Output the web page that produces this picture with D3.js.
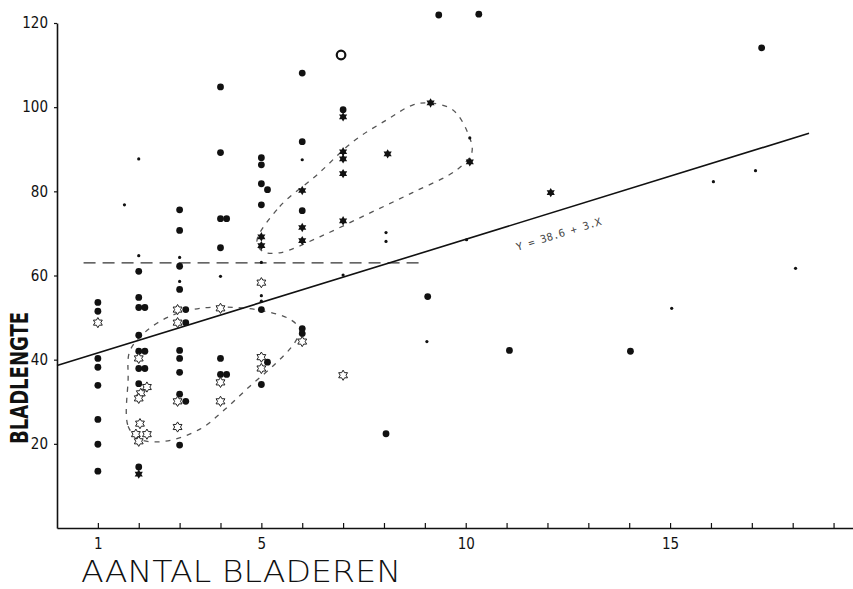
<!DOCTYPE html>
<html>
<head>
<meta charset="utf-8">
<script src="https://cdn.jsdelivr.net/npm/d3@7"></script>
<style>
  body{margin:0;background:#fff}
</style>
</head>
<body>
<div class="plot"></div>
<script>
// values: [aantal bladeren, bladlengte]
const bigDots = [
  [1,53.6],[1,51.5],[1,40.3],[1,38.2],[1,33.9],[1,25.8],[1,19.9],[1,13.5],
  [2,61],[2,54.8],[2,52.4],[2.15,52.4],[2,45.8],[2,42],[2.15,42],[2,37.9],[2.15,37.9],[2,34.3],[2,14.5],
  [3,75.6],[3,70.7],[3,62.2],[3,56.7],[3.15,51.9],[3.15,48.8],[3,42.2],[3,40.3],[3,37],[3,31.8],[3.15,30.1],[3,19.7],
  [4,104.8],[4,89.2],[4,73.5],[4.15,73.5],[4,66.6],[4,40.3],[4,36.5],[4.15,36.5],
  [5,88],[5,86.3],[5,81.8],[5.15,80.4],[5,76.8],[5,51.9],[5.15,39.4],[5,34.1],
  [6,108.1],[6,91.8],[6,75.4],[6,47.4],[6,46.2],
  [7,99.4],[8.05,22.4],[9.07,55],[9.34,121.9],[10.32,122.1],[11.07,42.2],[14.03,42],[17.24,114.1]
]
const smallDots = [
  [1.65,76.8],[2,87.7],[2,64.7],[3,64.3],[3,58.6],[4,59.8],[5,63.1],[5,55.2],[5,53.9],
  [6,87.5],[7,60.1],[8.05,70.2],[8.05,68.1],[9.05,44.3],[10.02,68.5],[10.1,92.7],
  [15.04,52.2],[16.06,82.3],[17.09,84.9],[18.07,61.7]
]
const openStars = [
  [1,48.8],[2,40.3],[2.2,33.5],[2.05,32],[2,30.8],[2.03,24.8],[1.93,22.3],[2.2,22.3],[2,20.6],
  [2.95,51.9],[2.95,48.8],[2.95,30.1],[2.95,24],[4,52.2],[4,34.6],[4,30.1],
  [5,58.3],[5,40.6],[5,37.9],[6,44.3],[7,36.3]
]
const filledStars = [
  [2,12.8],[5,69.2],[5,67.1],[6,80.2],[6,71.4],[6,68.3],
  [7,97.7],[7,89.4],[7,87.7],[7,84.2],[7,73],[8.09,88.9],[9.14,101],[10.1,87],[12.08,79.7]
]
const rings = [[6.95,112.4]]

// regression Y = a + b.X and the mean line
const regA = 38.6, regB = 3
const regRange = [0, 18.4]
const meanY = 63, meanRange = [0.65, 8.9]

// hand drawn envelopes round the star groups
const upperLoop = [
  [4.89,68.1],[5.45,76.4],[6.36,83.9],[7.24,91.8],[8.07,97],[8.7,100.5],[9.12,101],[9.68,99.4],
  [10.05,93.9],[10.15,89.2],[9.78,85.1],[8.7,79.7],[7.58,74.5],[6.43,69.2],[5.45,65.4],[5.04,65.7]
]
const lowerLoop = [
  [1.74,35.3],[1.74,24.2],[2.03,21.1],[2.64,20.6],[3.5,23.5],[4.11,28.2],[4.72,33.7],[5.33,38.9],
  [5.82,44.1],[5.94,47.2],[5.7,49.6],[5.09,51.5],[4.35,52.4],[3.5,52.2],[2.76,50.3],[2.15,46.5],[1.78,42]
]

const xTickValues = d3.range(1, 20)
const xTickLabels = [1, 5, 10, 15]
const yTickLabels = [20, 40, 60, 80, 100, 120]

const width = 853, height = 589
const ink = '#111'

let svg = d3.select('.plot').append('svg')
    .attr('width', width)
    .attr('height', height)

let x = d3.scaleLinear().domain([0, 19.5]).range([57, 854])
let y = d3.scaleLinear().domain([0, 120]).range([528, 23])

// axes
let xAxis = svg.append('g')
    .attr('transform', 'translate(0,' + y(0) + ')')
    .call(d3.axisBottom(x).tickValues(xTickValues).tickSize(-5).tickSizeOuter(0).tickPadding(10)
        .tickFormat(d => xTickLabels.includes(d) ? d : ''))
xAxis.attr('font-family', '"DejaVu Sans Condensed", "DejaVu Sans", sans-serif').attr('font-size', 15)
xAxis.select('.domain').attr('stroke', ink).attr('stroke-width', 1.6)
xAxis.selectAll('.tick line').attr('stroke', ink).attr('stroke-width', 1.2)
xAxis.selectAll('.tick text').attr('fill', ink)

let yAxis = svg.append('g')
    .attr('transform', 'translate(' + x(0) + ',0)')
    .call(d3.axisLeft(y).tickValues(yTickLabels).tickSize(3).tickSizeOuter(0).tickPadding(6))
yAxis.attr('font-family', '"DejaVu Sans Condensed", "DejaVu Sans", sans-serif').attr('font-size', 15)
yAxis.select('.domain').attr('stroke', ink).attr('stroke-width', 1.6)
yAxis.selectAll('.tick line').attr('stroke', ink).attr('stroke-width', 1.2)
yAxis.selectAll('.tick text').attr('fill', ink)

// axis titles
svg.append('text')
    .attr('transform', 'translate(28,378) rotate(-90)')
    .attr('text-anchor', 'middle')
    .attr('font-family', '"DejaVu Sans Condensed", "DejaVu Sans", sans-serif')
    .attr('font-weight', 'bold')
    .attr('font-size', 25)
    .attr('textLength', 132)
    .attr('lengthAdjust', 'spacingAndGlyphs')
    .attr('fill', ink)
    .text('BLADLENGTE')

svg.append('text')
    .attr('x', 81)
    .attr('y', 582)
    .attr('font-family', '"DejaVu Sans", sans-serif')
    .attr('font-weight', 200)
    .attr('font-size', 31)
    .attr('textLength', 320)
    .attr('lengthAdjust', 'spacingAndGlyphs')
    .attr('fill', ink)
    .text('AANTAL BLADEREN')

// dashed envelopes
let loopLine = d3.line()
    .x(d => x(d[0]))
    .y(d => y(d[1]))
    .curve(d3.curveCatmullRomClosed)

;[upperLoop, lowerLoop].forEach(loop =>
    svg.append('path')
        .datum(loop)
        .attr('d', loopLine)
        .attr('fill', 'none')
        .attr('stroke', '#555')
        .attr('stroke-width', 1.3)
        .attr('stroke-dasharray', '5,6')
)

// mean line (dashed)
svg.append('line')
    .attr('x1', x(meanRange[0]))
    .attr('x2', x(meanRange[1]))
    .attr('y1', y(meanY))
    .attr('y2', y(meanY))
    .attr('stroke', '#333')
    .attr('stroke-width', 1.3)
    .attr('stroke-dasharray', '12,7')

// regression line
svg.append('line')
    .attr('x1', x(regRange[0]))
    .attr('y1', y(regA + regB * regRange[0]))
    .attr('x2', x(regRange[1]))
    .attr('y2', y(regA + regB * regRange[1]))
    .attr('stroke', ink)
    .attr('stroke-width', 1.6)

let angle = Math.atan2(y(regB) - y(0), x(1) - x(0)) * 180 / Math.PI
svg.append('text')
    .attr('transform', 'translate(' + x(12.3) + ',' + y(69) + ') rotate(' + angle + ')')
    .attr('text-anchor', 'middle')
    .attr('font-family', '"DejaVu Sans Mono", monospace')
    .attr('font-size', 10.5)
    .attr('fill', '#444')
    .text('Y = ' + regA + ' + ' + regB + '.X')

// six pointed star symbol
const hexagram = {
    draw(context, size) {
        let r = Math.sqrt(size), ri = r / Math.sqrt(3)
        for (let i = 0; i < 12; i++) {
            let a = -Math.PI / 2 + i * Math.PI / 6
            let rr = i % 2 ? ri : r
            if (i == 0) context.moveTo(rr * Math.cos(a), rr * Math.sin(a))
            else context.lineTo(rr * Math.cos(a), rr * Math.sin(a))
        }
        context.closePath()
    }
}

svg.append('g').selectAll('circle')
    .data(bigDots).join('circle')
    .attr('cx', d => x(d[0]))
    .attr('cy', d => y(d[1]))
    .attr('r', 3.4)
    .attr('fill', ink)

svg.append('g').selectAll('circle')
    .data(smallDots).join('circle')
    .attr('cx', d => x(d[0]))
    .attr('cy', d => y(d[1]))
    .attr('r', 1.6)
    .attr('fill', ink)

svg.append('g').selectAll('path')
    .data(openStars).join('path')
    .attr('transform', d => 'translate(' + x(d[0]) + ',' + y(d[1]) + ')')
    .attr('d', d3.symbol().type(hexagram).size(26))
    .attr('fill', '#fff')
    .attr('stroke', '#222')
    .attr('stroke-width', 1)

svg.append('g').selectAll('path')
    .data(filledStars).join('path')
    .attr('transform', d => 'translate(' + x(d[0]) + ',' + y(d[1]) + ')')
    .attr('d', d3.symbol().type(hexagram).size(22))
    .attr('fill', ink)

svg.append('g').selectAll('circle')
    .data(rings).join('circle')
    .attr('cx', d => x(d[0]))
    .attr('cy', d => y(d[1]))
    .attr('r', 4.3)
    .attr('fill', 'none')
    .attr('stroke', ink)
    .attr('stroke-width', 2.2)
</script>
</body>
</html>
